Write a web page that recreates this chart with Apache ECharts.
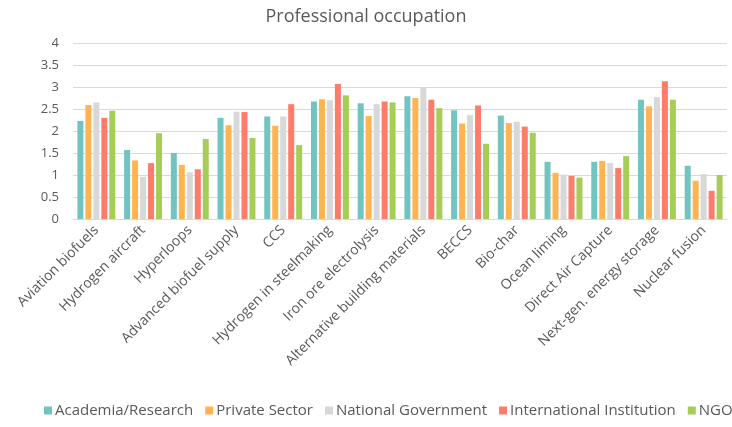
<!DOCTYPE html>
<html><head><meta charset="utf-8">
<script src="https://cdn.jsdelivr.net/npm/echarts@6/dist/echarts.min.js"></script>
<style>html,body{margin:0;padding:0;background:#fff}#c{width:732px;height:427px}</style>
</head><body><div id="c"></div>
<script>
const categories = ["Aviation biofuels","Hydrogen aircraft","Hyperloops","Advanced biofuel supply","CCS","Hydrogen in steelmaking","Iron ore electrolysis","Alternative building materials","BECCS","Bio-char","Ocean liming","Direct Air Capture","Next-gen. energy storage","Nuclear fusion"];
const seriesNames = ["Academia/Research","Private Sector","National Government","International Institution","NGO"];
const academia = [2.23,1.57,1.50,2.30,2.33,2.67,2.63,2.79,2.47,2.35,1.30,1.30,2.71,1.21];
const privateSector = [2.59,1.33,1.23,2.13,2.12,2.72,2.34,2.75,2.17,2.18,1.05,1.32,2.56,0.87];
const nationalGov = [2.65,0.96,1.06,2.44,2.33,2.70,2.61,3.00,2.36,2.21,1.01,1.27,2.77,1.02];
const international = [2.30,1.27,1.13,2.43,2.61,3.07,2.67,2.71,2.58,2.10,0.98,1.16,3.13,0.64];
const ngo = [2.46,1.95,1.82,1.84,1.68,2.81,2.65,2.52,1.71,1.96,0.94,1.43,2.71,1.00];
const yTicks = [0,0.5,1,1.5,2,2.5,3,3.5,4];
const colors = ["#72C4C0","#FFB450","#D8D8D8","#FF7C6B","#A6CE56"];
const allData = [academia, privateSector, nationalGov, international, ngo];
const font = "Open Sans";
const chart = echarts.init(document.getElementById('c'));
chart.setOption({
  animation:false,
  color: colors,
  title:{text:"Professional occupation",left:'center',top:3,textStyle:{fontFamily:font,fontSize:18,fontWeight:'normal',color:'#595959'}},
  grid:{left:73,right:5,top:43,bottom:208,containLabel:false},
  legend:{top:403,left:44,width:900,padding:0,itemWidth:8,itemHeight:8,itemGap:12,icon:'rect',
    textStyle:{fontFamily:font,fontSize:15,color:'#595959',padding:[0,0,0,-2]},data:seriesNames},
  xAxis:{type:'category',data:categories,
    axisLine:{lineStyle:{color:'#d9d9d9'}},axisTick:{show:false},
    axisLabel:{rotate:45,interval:0,fontFamily:font,fontSize:14,color:'#595959',margin:9}},
  yAxis:{type:'value',min:0,max:4,interval:0.5,
    axisLine:{show:false},axisTick:{show:false},
    splitLine:{lineStyle:{color:'#d9d9d9',width:1}},
    axisLabel:{fontFamily:font,fontSize:13,color:'#595959',margin:14,
      formatter:v=>yTicks.includes(v)?String(v):''}},
  series: seriesNames.map((n,i)=>({name:n,type:'bar',data:allData[i],barWidth:6,barGap:'33%',
    itemStyle:{color:colors[i]}}))
});
</script></body></html>
